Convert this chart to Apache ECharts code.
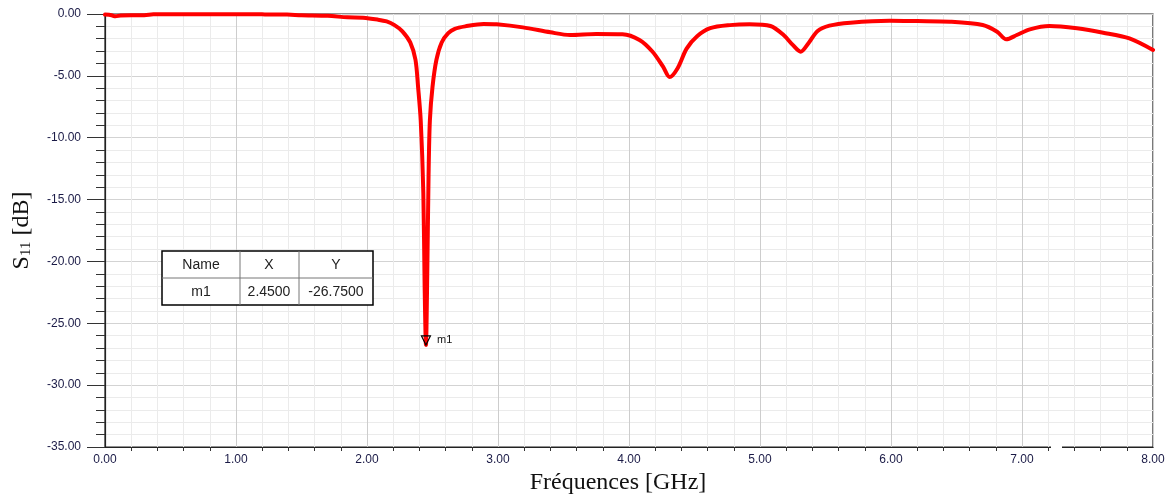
<!DOCTYPE html>
<html>
<head>
<meta charset="utf-8">
<script src="https://cdn.jsdelivr.net/npm/echarts@6/dist/echarts.min.js"></script>
<style>html,body{margin:0;padding:0;background:#fff}#c{width:1172px;height:495px}</style>
</head>
<body>
<div id="c"></div>
<script>
const freqGHz = [0, 0.05, 0.08, 0.12, 0.2, 0.3, 0.37, 0.6, 0.9, 1.2, 1.39, 1.5, 1.7, 1.85, 1.97, 2.08, 2.15, 2.21, 2.27, 2.33, 2.37, 2.39, 2.41, 2.43, 2.44, 2.45, 2.46, 2.47, 2.48, 2.50, 2.53, 2.57, 2.62, 2.67, 2.75, 2.89, 2.99, 3.19, 3.40, 3.55, 3.75, 3.95, 4.08, 4.18, 4.26, 4.31, 4.37, 4.44, 4.52, 4.62, 4.77, 4.92, 5.08, 5.18, 5.25, 5.31, 5.37, 5.44, 5.53, 5.69, 5.99, 6.20, 6.45, 6.70, 6.81, 6.88, 6.96, 7.06, 7.21, 7.42, 7.62, 7.82, 8.00];
const s11dB = [-0.05, -0.1, -0.19, -0.12, -0.1, -0.1, -0.03, -0.02, -0.02, -0.03, -0.05, -0.1, -0.15, -0.27, -0.3, -0.45, -0.6, -0.9, -1.4, -2.3, -3.7, -5.9, -8.6, -14.5, -22, -26.75, -21, -13, -8.6, -5.9, -3.7, -2.3, -1.55, -1.2, -1.0, -0.8, -0.83, -1.08, -1.48, -1.7, -1.62, -1.64, -2.1, -3.05, -4.26, -5.1, -4.4, -2.8, -1.8, -1.15, -0.9, -0.83, -0.97, -1.7, -2.5, -3.05, -2.36, -1.37, -0.94, -0.7, -0.54, -0.57, -0.62, -0.89, -1.43, -2.05, -1.7, -1.24, -0.97, -1.16, -1.51, -1.97, -2.91];
const markerName = 'm1';
const markerX = 2.45;
const markerY = -26.75;
const tableHeader = ['Name', 'X', 'Y'];
const tableRow = ['m1', '2.4500', '-26.7500'];

const chart = echarts.init(document.getElementById('c'));
const labelColor = '#1a1a46';
const tx = [201, 269, 336];
const colEdges = [240, 299];
const tableGraphics = [
  {type:'rect', shape:{x:162, y:251, width:211, height:54}, style:{fill:'#fff', stroke:'#000', lineWidth:1.5}, z:100},
  {type:'line', shape:{x1:162, y1:278, x2:373, y2:278}, style:{stroke:'#777', lineWidth:1}, z:101},
  {type:'line', shape:{x1:colEdges[0], y1:251, x2:colEdges[0], y2:305}, style:{stroke:'#777', lineWidth:1}, z:101},
  {type:'line', shape:{x1:colEdges[1], y1:251, x2:colEdges[1], y2:305}, style:{stroke:'#777', lineWidth:1}, z:101}
];
tableHeader.forEach((t, i) => tableGraphics.push({type:'text', x:tx[i], y:265, z:102, style:{text:t, fill:'#222', font:'14px "Liberation Sans", Arial', align:'center', verticalAlign:'middle'}}));
tableRow.forEach((t, i) => tableGraphics.push({type:'text', x:tx[i], y:292, z:102, style:{text:t, fill:'#222', font:'14px "Liberation Sans", Arial', align:'center', verticalAlign:'middle'}}));

chart.setOption({
  animation: false,
  backgroundColor: '#fff',
  grid: {left:105, right:19, top:14, bottom:48, containLabel:false, outerBoundsMode:'none', show:true, borderColor:'#222', borderWidth:1.2, backgroundColor:'transparent'},
  xAxis: {
    type:'value', min:0, max:8, interval:1,
    name:'Fréquences [GHz]', nameLocation:'middle', nameGap:22,
    nameTextStyle:{fontFamily:'"Liberation Serif", "Times New Roman", serif', fontSize:24, color:'#111', padding:[0,22,0,0]},
    axisLine:{show:true, onZero:false, lineStyle:{color:'#222', width:1.2}},
    axisTick:{show:false},
    minorTick:{show:true, splitNumber:5, length:4, lineStyle:{color:'#333'}},
    axisLabel:{formatter:v=>v.toFixed(2), color:labelColor, fontSize:12, fontFamily:'"Liberation Sans", Arial', margin:7},
    splitLine:{show:true, lineStyle:{color:'#cdcdcd', width:1}},
    minorSplitLine:{show:true, lineStyle:{color:'#ebebeb', width:1}}
  },
  yAxis: {
    type:'value', min:-35, max:0, interval:5,
    name:'{s|S}{sub|11}{s| [dB]}', nameLocation:'middle', nameGap:71, nameRotate:90,
    nameTextStyle:{rich:{
      s:{fontFamily:'"Liberation Serif", "Times New Roman", serif', fontSize:24, color:'#111'},
      sub:{fontFamily:'"Liberation Serif", "Times New Roman", serif', fontSize:15, color:'#111', verticalAlign:'bottom', padding:[8,0,0,0]}
    }},
    axisLine:{show:true, onZero:false, lineStyle:{color:'#222', width:1.2}},
    axisTick:{show:true, inside:false, length:18, lineStyle:{color:'#333'}},
    minorTick:{show:true, splitNumber:5, length:9, lineStyle:{color:'#333'}},
    axisLabel:{formatter:v=>v.toFixed(2), color:labelColor, fontSize:12, fontFamily:'"Liberation Sans", Arial', margin:24},
    splitLine:{show:true, lineStyle:{color:'#d3d3d3', width:1}},
    minorSplitLine:{show:true, lineStyle:{color:'#ebebeb', width:1}}
  },
  series: [{
    type:'line',
    data: freqGHz.map((f, i) => [f, s11dB[i]]),
    showSymbol:false, smooth:0.3,
    lineStyle:{color:'#ff0000', width:4, join:'round', cap:'round'},
    clip:false,
    markPoint:{
      data:[{coord:[markerX, markerY], name:markerName}],
      symbol:'triangle', symbolRotate:180, symbolSize:[9,9], symbolOffset:[0,'-50%'],
      itemStyle:{color:'rgba(0,0,0,0)', borderColor:'#000', borderWidth:1.2},
      label:{show:true, position:'right', formatter:markerName, color:'#111', fontSize:11, fontFamily:'"Liberation Sans", Arial', distance:6}
    }
  }],
  graphic: tableGraphics.concat([
    {type:'rect', shape:{x:1051, y:445, width:11, height:50}, style:{fill:'#fff'}, z:200}
  ])
});
</script>
</body>
</html>
